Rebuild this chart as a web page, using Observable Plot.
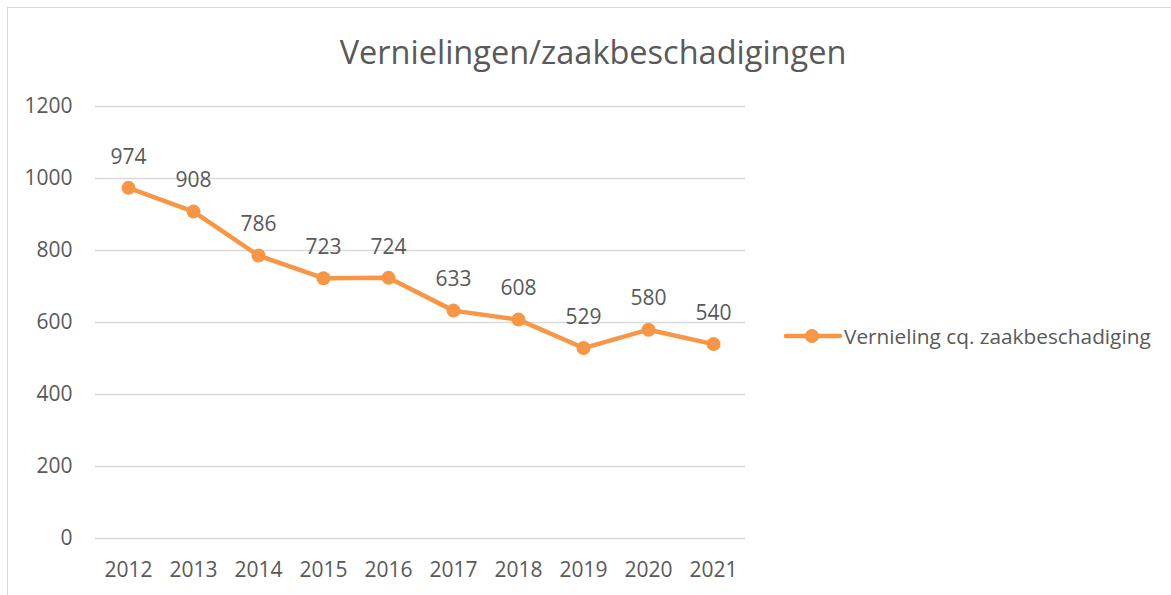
<!DOCTYPE html>
<html>
<head>
<meta charset="utf-8">
<script src="https://cdn.jsdelivr.net/npm/d3@7"></script>
<script src="https://cdn.jsdelivr.net/npm/@observablehq/plot@0.6"></script>
<style>
  html, body { margin: 0; padding: 0; background: #fff; }
  #wrap { position: relative; width: 1171px; height: 595px; overflow: hidden; font-family: "Open Sans", sans-serif; }
  #frame { position: absolute; left: 7px; top: 7px; width: 1180px; height: 600px; border-left: 1.5px solid #d9d9d9; border-top: 1.5px solid #d9d9d9; box-sizing: border-box; }
  #title { position: absolute; left: 0; width: 1186px; top: 31px; text-align: center; font-size: 32.5px; color: #595959; line-height: 42px; }
  #chart { position: absolute; left: 0; top: 0; }
  #legend { position: absolute; left: 784px; top: 322px; display: flex; align-items: center; font-size: 20.8px; color: #595959; }
  #legend svg { margin-right: 2px; }
</style>
</head>
<body>
<div id="wrap">
  <div id="frame"></div>
  <div id="chart"></div>
  <div id="title">Vernielingen/zaakbeschadigingen</div>
  <div id="legend"></div>
</div>
<script>
const years = ["2012","2013","2014","2015","2016","2017","2018","2019","2020","2021"];
const values = [974, 908, 786, 723, 724, 633, 608, 529, 580, 540];
const yTicks = [0, 200, 400, 600, 800, 1000, 1200];
const seriesName = "Vernieling cq. zaakbeschadiging";
const color = "#F79646";
const textColor = "#595959";

const data = years.map((y, i) => ({year: y, value: values[i]}));

const chart = Plot.plot({
  width: 1171,
  height: 595,
  marginLeft: 95,
  marginRight: 426,
  marginTop: 106,
  marginBottom: 57,
  style: {fontFamily: "'Open Sans', sans-serif", fontSize: "21px", color: textColor, background: "transparent"},
  x: {type: "point", domain: years, padding: 0.5, label: null},
  y: {domain: [0, 1200], ticks: yTicks, label: null},
  marks: [
    Plot.gridY(yTicks, {stroke: "#d9d9d9", strokeOpacity: 1, strokeWidth: 1.3}),
    Plot.axisY(yTicks, {tickSize: 0, tickPadding: 23, fontSize: 21, fill: textColor, label: null, tickFormat: d => String(d)}),
    Plot.axisX({tickSize: 0, tickPadding: 24, fontSize: 21, fill: textColor, label: null}),
    Plot.line(data, {x: "year", y: "value", stroke: color, strokeWidth: 4.5, strokeLinejoin: "round", strokeLinecap: "round"}),
    Plot.dot(data, {x: "year", y: "value", r: 7, fill: color, stroke: "none"}),
    Plot.text(data, {x: "year", y: "value", text: d => String(d.value), dy: -31, fontSize: 21, fill: textColor})
  ]
});
document.getElementById("chart").appendChild(chart);

const legend = document.getElementById("legend");
legend.innerHTML = `<svg width="58" height="20"><line x1="2" y1="10" x2="56" y2="10" stroke="${color}" stroke-width="4.5" stroke-linecap="round"/><circle cx="28" cy="10" r="7" fill="${color}"/></svg><span>${seriesName}</span>`;
</script>
</body>
</html>
